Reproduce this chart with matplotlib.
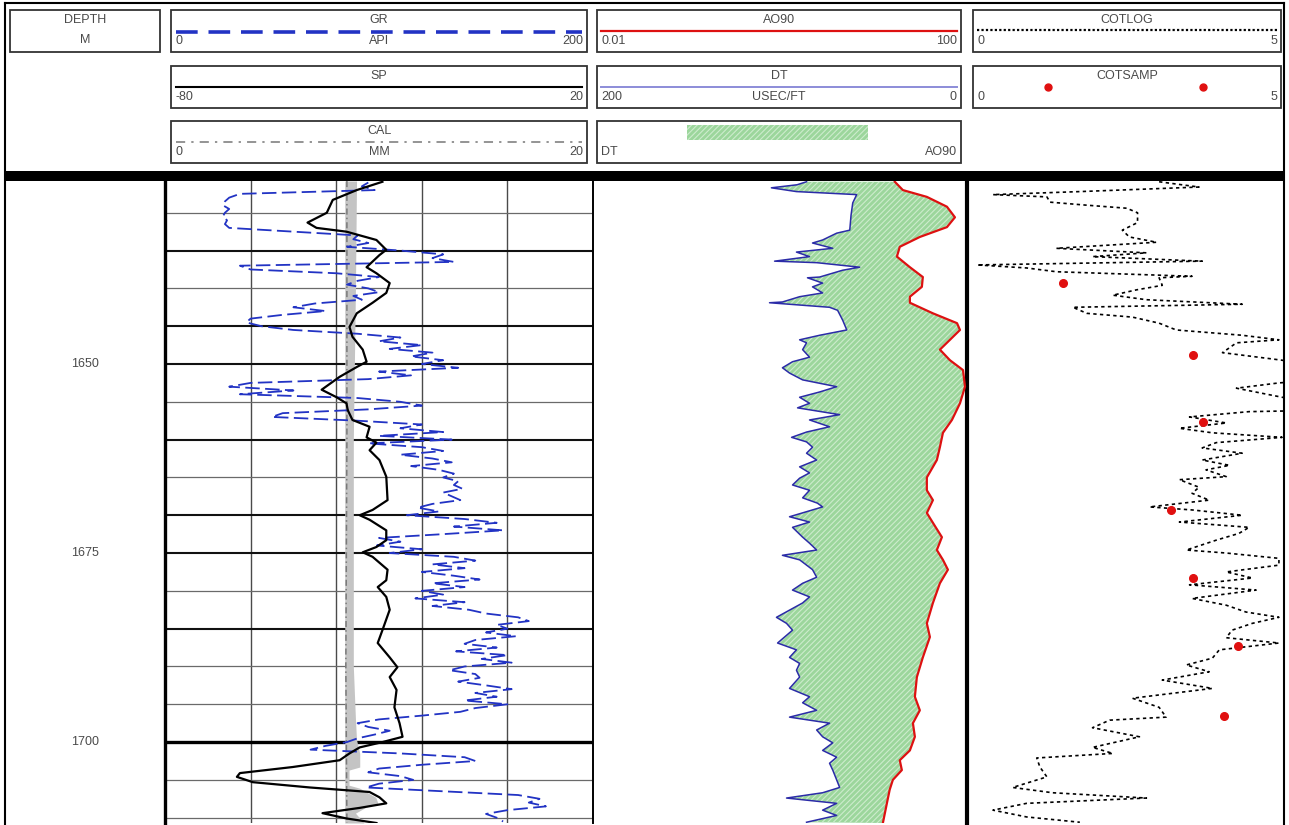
import numpy as np
import matplotlib.pyplot as plt
from matplotlib.patches import Rectangle

plt.rcParams['font.family'] = ['Liberation Sans', 'DejaVu Sans']
plt.rcParams['hatch.linewidth'] = 0.8

# ---------------- log data ----------------
# gamma ray, API, every 0.5 m
gr_depth = np.arange(1626.0, 1710.6, 0.5)
gr = [95, 92, 98, 35, 30, 28, 27, 30, 28, 27,
      29, 28, 30, 60, 90, 88, 95, 85, 110, 130,
      125, 135, 35, 40, 80, 100, 90, 85, 95, 100,
      88, 92, 70, 60, 75, 55, 40, 38, 45, 60,
      90, 110, 100, 120, 105, 125, 115, 130, 120, 137,
      100, 115, 95, 40, 30, 60, 35, 90, 110, 120,
      95, 55, 50, 90, 120, 110, 130, 100, 134, 95,
      120, 130, 110, 125, 134, 115, 128, 135, 130, 137,
      135, 139, 130, 134, 138, 125, 118, 128, 113, 140,
      155, 135, 158, 130, 100, 110, 99, 120, 105, 135,
      145, 125, 140, 120, 135, 147, 125, 140, 120, 130,
      117, 140, 125, 142, 150, 165, 170, 155, 160, 150,
      164, 145, 140, 155, 136, 160, 148, 162, 140, 133,
      145, 147, 137, 150, 162, 145, 155, 140, 160, 145,
      138, 120, 100, 90, 95, 105, 98, 90, 85, 75,
      68, 110, 140, 145, 120, 100, 95, 110, 116, 100,
      94, 130, 165, 175, 170, 178, 160, 150, 155, 158]

# spontaneous potential, mV
sp_depth = [1625.9, 1627.0, 1628.3, 1630.0, 1631.3, 1632.0, 1632.5, 1633.6,
            1634.9, 1635.6, 1637.2, 1638.0, 1639.3, 1640.6, 1641.9, 1643.3,
            1645.1, 1646.4, 1648.1, 1649.7, 1650.4, 1651.7, 1653.4, 1654.4,
            1655.2, 1656.1, 1657.4, 1658.3, 1659.7, 1660.4, 1661.4, 1662.7,
            1664.9, 1668.0, 1669.3, 1670.0, 1670.6, 1672.0, 1673.3, 1674.2,
            1674.9, 1675.5, 1677.2, 1678.6, 1679.5, 1680.8, 1682.5, 1685.2,
            1686.9, 1688.8, 1690.1, 1691.4, 1693.1, 1695.4, 1697.5, 1699.3,
            1700.0, 1700.7, 1701.5, 1702.4, 1703.3, 1704.1, 1704.6, 1705.3,
            1706.0, 1706.6, 1707.3, 1708.1, 1708.7, 1709.4, 1710.1, 1710.7]
sp = [-29.2, -35.2, -40.8, -42.2, -46.7, -44.6, -37.6, -30.6,
      -28.3, -29.9, -32.9, -30.6, -27.5, -28.3, -31.5, -35.2,
      -36.9, -36.2, -33.8, -32.9, -35.2, -39.2, -43.4, -39.9,
      -37.6, -37.3, -36.2, -32.2, -32.9, -30.6, -32.2, -29.9,
      -28.3, -28.0, -31.5, -34.5, -32.2, -28.3, -28.3, -30.6,
      -33.8, -31.5, -28.0, -28.3, -30.3, -28.3, -27.5, -29.2,
      -30.3, -27.5, -25.7, -27.5, -25.9, -26.4, -25.2, -24.5,
      -29.2, -34.5, -36.9, -39.2, -50.2, -62.5, -63.2, -59.5,
      -46.2, -32.2, -29.9, -28.3, -34.5, -43.2, -37.6, -30.6]

# caliper, mm, and the washed-out hole shading next to it
cal_depth = [1625.8, 1660.0, 1690.0, 1710.7]
cal = [8.5, 8.5, 8.45, 8.5]
bit_size = 8.4
wash_depth = [1625.8, 1640.0, 1660.0, 1690.0, 1697.0, 1699.7, 1701.5, 1703.3,
              1703.7, 1705.7, 1706.1, 1707.3, 1708.1, 1708.6, 1709.4, 1710.7]
wash = [8.95, 8.9, 8.8, 8.8, 8.9, 8.95, 9.1, 9.1,
        8.6, 8.6, 9.1, 9.85, 9.95, 9.4, 8.9, 9.3]

# sonic, usec/ft
dt_depth = [1625.9, 1626.3, 1626.7, 1627.2, 1627.6, 1628.7, 1630.3,
            1632.3, 1632.7, 1633.6, 1634.0, 1634.7, 1635.2, 1635.8,
            1636.4, 1636.6, 1637.2, 1637.6, 1638.5, 1638.6, 1639.3,
            1639.8, 1640.6, 1641.1, 1641.8, 1641.9, 1642.5, 1642.9,
            1644.2, 1645.5, 1646.2, 1646.8, 1647.2, 1648.1, 1649.1,
            1649.7, 1650.5, 1651.2, 1652.1, 1653.0, 1653.7, 1654.4,
            1655.2, 1655.8, 1656.7, 1657.4, 1658.3, 1659.0, 1659.7,
            1660.3, 1661.0, 1661.8, 1662.7, 1663.6, 1664.4, 1665.1,
            1666.0, 1666.7, 1667.7, 1668.4, 1668.9, 1670.2, 1670.9,
            1671.6, 1672.9, 1673.7, 1674.6, 1675.3, 1675.9, 1677.2,
            1678.2, 1679.0, 1679.9, 1680.8, 1681.6, 1683.5, 1684.3,
            1685.2, 1686.9, 1687.8, 1688.8, 1689.6, 1690.5, 1691.4,
            1692.9, 1694.0, 1694.8, 1695.8, 1696.7, 1697.5, 1698.4,
            1699.3, 1700.1, 1701.1, 1702.0, 1702.8, 1703.7, 1705.0,
            1706.0, 1706.7, 1707.4, 1708.1, 1709.0, 1709.7, 1710.6]
dt = [85.8, 90.9, 104.6, 91.2, 59.0, 61.1, 62.0,
      62.7, 69.7, 77.2, 82.6, 71.8, 91.2, 84.2,
      102.9, 80.4, 57.4, 66.5, 78.8, 85.3, 77.2,
      82.6, 77.2, 89.5, 98.7, 105.6, 73.5, 69.2,
      66.5, 64.3, 78.8, 89.5, 85.8, 87.9, 84.2,
      93.3, 98.7, 94.9, 87.9, 69.7, 78.8, 89.5,
      84.2, 90.6, 68.1, 84.2, 73.5, 85.8, 93.8,
      85.8, 82.6, 85.8, 80.4, 89.5, 84.2, 89.5,
      93.3, 84.2, 87.9, 80.0, 77.2, 94.9, 84.2,
      93.3, 87.9, 84.2, 80.4, 98.7, 89.5, 82.6,
      80.4, 87.9, 93.3, 84.2, 87.9, 101.9, 96.5,
      93.3, 101.3, 91.2, 94.9, 89.5, 91.2, 89.5,
      94.9, 84.2, 87.9, 80.4, 94.9, 73.5, 80.4,
      77.2, 71.8, 77.2, 69.7, 73.5, 71.8, 69.7,
      68.1, 77.2, 96.5, 69.7, 77.2, 69.7, 85.8]

# deep resistivity, ohm.m
ao_depth = [1625.9, 1627.0, 1627.9, 1629.2, 1630.6, 1631.9, 1633.2, 1634.5,
            1635.8, 1637.2, 1638.5, 1639.8, 1641.1, 1641.9, 1643.3, 1644.6,
            1645.5, 1646.8, 1648.1, 1649.5, 1650.8, 1653.0, 1655.2, 1657.4,
            1659.1, 1661.0, 1662.7, 1665.0, 1666.7, 1668.0, 1669.7, 1671.0,
            1672.9, 1674.6, 1675.9, 1677.2, 1679.0, 1681.6, 1684.3, 1686.1,
            1688.8, 1691.4, 1694.0, 1695.8, 1697.5, 1699.3, 1701.1, 1702.4,
            1703.7, 1705.0, 1706.3, 1708.1, 1710.7]
ao90 = [16.9, 20.6, 37.2, 61.0, 74.3, 61.0, 31.3, 19.1,
        17.8, 24.5, 33.7, 32.9, 24.5, 24.5, 43.2, 78.2,
        84.1, 65.7, 51.3, 65.7, 90.6, 95.2, 84.1, 69.0,
        55.3, 51.3, 47.6, 37.2, 37.2, 43.2, 37.2, 43.2,
        53.9, 47.6, 55.3, 62.5, 51.3, 43.2, 37.2, 40.1,
        33.7, 29.1, 27.7, 31.3, 26.4, 27.7, 24.5, 19.1,
        20.1, 16.1, 14.9, 13.9, 12.6]

# computed organic carbon log and core samples
cot_depth = [1625.9, 1626.6, 1627.2, 1627.6, 1627.9, 1628.6, 1629.0, 1629.4, 1630.0, 1631.3,
             1632.3, 1633.2, 1633.9, 1634.7, 1635.3, 1635.8, 1636.4, 1636.9, 1637.3, 1637.8,
             1638.4, 1638.6, 1639.6, 1640.2, 1640.9, 1641.5, 1642.1, 1642.5, 1643.3, 1643.8,
             1644.6, 1645.5, 1646.2, 1646.8, 1647.2, 1648.5, 1649.5, 1650.4, 1652.1, 1652.5,
             1653.2, 1653.8, 1654.4, 1655.2, 1656.1, 1656.3, 1657.0, 1657.8, 1658.5, 1659.1,
             1659.7, 1660.4, 1661.1, 1661.8, 1662.7, 1663.4, 1664.0, 1664.9, 1665.3, 1666.3,
             1667.1, 1668.0, 1668.9, 1669.3, 1670.0, 1670.9, 1671.6, 1672.4, 1673.3, 1674.6,
             1675.0, 1675.7, 1676.6, 1677.5, 1678.3, 1679.2, 1679.9, 1681.0, 1681.9, 1682.8,
             1683.5, 1684.3, 1685.2, 1686.2, 1686.9, 1687.8, 1688.9, 1689.8, 1690.7, 1691.8,
             1692.9, 1694.2, 1695.4, 1696.7, 1697.1, 1698.1, 1699.3, 1700.7, 1701.5, 1702.1,
             1703.3, 1704.6, 1706.0, 1706.7, 1707.4, 1708.1, 1709.0, 1709.9, 1710.6]
cotlog = [3.03, 3.66, 1.78, 0.41, 1.26, 1.31, 1.89, 2.52, 2.69, 2.69,
          2.45, 2.56, 2.99, 1.41, 2.83, 1.98, 3.71, 0.16, 0.94, 1.41,
          3.55, 3.03, 3.08, 2.67, 2.30, 2.83, 4.34, 1.67, 1.89, 2.61,
          3.03, 3.30, 4.34, 4.92, 4.25, 4.03, 4.97, 5.6, 5.6, 4.92,
          4.25, 4.61, 4.97, 5.8, 5.8, 4.45, 3.51, 4.09, 3.35, 3.87,
          4.97, 3.93, 3.71, 4.34, 3.71, 4.14, 3.77, 4.09, 3.35, 3.66,
          3.55, 3.82, 2.88, 3.55, 4.34, 3.35, 4.45, 4.29, 3.93, 3.46,
          4.09, 4.92, 4.92, 4.09, 4.50, 3.51, 4.56, 3.55, 4.09, 4.40,
          4.92, 4.50, 4.18, 4.09, 4.92, 3.98, 3.87, 3.46, 3.82, 3.08,
          3.87, 2.61, 3.03, 3.14, 2.25, 1.98, 2.72, 1.98, 2.30, 1.10,
          1.15, 1.26, 0.72, 1.35, 2.83, 0.94, 0.41, 0.94, 1.78]
samp_depth = [1639.3, 1648.8, 1657.7, 1669.3, 1678.3, 1687.3, 1696.6]
cotsamp = [1.51, 3.57, 3.73, 3.21, 3.57, 4.28, 4.06]

depth_labels = [1650, 1675, 1700]
grid_depths = np.arange(1630, 1711, 5)
heavy_depths = [1635, 1645, 1650, 1660, 1670, 1675, 1685]
top_depth, base_depth = 1625.8, 1710.7

# ---------------- figure ----------------
W, H = 1289, 825
fig = plt.figure(figsize=(W / 100, H / 100), dpi=100)

TXT = dict(fontsize=9, color='#4a4a4a')
GR_C = '#2233c4'
DT_C = '#2b2ba8'
AO_C = '#dd1111'
FILL_FC, FILL_HC = '#9cd69c', '#cdeccd'

hdr = fig.add_axes([0, 0, 1, 1])
hdr.set_xlim(0, W)
hdr.set_ylim(H, 0)
hdr.axis('off')


def px_axes(x0, x1, y0=181, y1=823):
    a = fig.add_axes([x0 / W, 1 - y1 / H, (x1 - x0) / W, (y1 - y0) / H])
    a.set_facecolor('none')
    a.set_xticks([])
    a.set_yticks([])
    for s in a.spines.values():
        s.set_visible(False)
    return a


def box(x0, y0, x1, y1):
    hdr.add_patch(Rectangle((x0, y0), x1 - x0, y1 - y0, fill=False,
                            ec='#333333', lw=1.3))


def scale_box(x0, y0, x1, y1, title, left, right, unit=''):
    box(x0, y0, x1, y1)
    xc = (x0 + x1) / 2
    hdr.text(xc, y0 + 10, title, ha='center', va='center', **TXT)
    hdr.text(x0 + 4, y0 + 31, left, ha='left', va='center', **TXT)
    hdr.text(x1 - 4, y0 + 31, right, ha='right', va='center', **TXT)
    if unit:
        hdr.text(xc, y0 + 31, unit, ha='center', va='center', **TXT)


# outer frame and the heavy bar under the header
hdr.plot([5, 5], [3, H], color='black', lw=1.5)
hdr.plot([1284, 1284], [3, H], color='black', lw=1.5)
hdr.plot([5, 1284], [3, 3], color='black', lw=1.5)
hdr.add_patch(Rectangle((5, 171), 1279, 10, color='black', lw=0))

# header boxes
rows = [(10, 52), (66, 108), (121, 163)]
c1, c2, c3 = (171, 587), (597, 961), (973, 1281)

box(10, 10, 160, 52)
hdr.text(85, 20, 'DEPTH', ha='center', va='center', **TXT)
hdr.text(85, 40, 'M', ha='center', va='center', **TXT)

scale_box(c1[0], rows[0][0], c1[1], rows[0][1], 'GR', '0', '200', 'API')
hdr.plot([c1[0] + 5, c1[1] - 5], [32, 32], color=GR_C, lw=2.6, ls=(0, (6, 3)))
scale_box(c1[0], rows[1][0], c1[1], rows[1][1], 'SP', '-80', '20')
hdr.plot([c1[0] + 5, c1[1] - 5], [87, 87], color='black', lw=1.5)
scale_box(c1[0], rows[2][0], c1[1], rows[2][1], 'CAL', '0', '20', 'MM')
hdr.plot([c1[0] + 5, c1[1] - 5], [142, 142], color='#777777', lw=1.1,
         ls=(0, (6, 4, 1.5, 4)))

scale_box(c2[0], rows[0][0], c2[1], rows[0][1], 'AO90', '0.01', '100')
hdr.plot([c2[0] + 4, c2[1] - 4], [31, 31], color=AO_C, lw=1.6)
scale_box(c2[0], rows[1][0], c2[1], rows[1][1], 'DT', '200', '0', 'USEC/FT')
hdr.plot([c2[0] + 4, c2[1] - 4], [87, 87], color='#8c8cd8', lw=1.4)
box(c2[0], rows[2][0], c2[1], rows[2][1])
hdr.add_patch(Rectangle((687, 125), 181, 15, facecolor=FILL_FC,
                        edgecolor=FILL_HC, hatch='//////', lw=0))
hdr.text(c2[0] + 4, 152, 'DT', ha='left', va='center', **TXT)
hdr.text(c2[1] - 4, 152, 'AO90', ha='right', va='center', **TXT)

scale_box(c3[0], rows[0][0], c3[1], rows[0][1], 'COTLOG', '0', '5')
hdr.plot([c3[0] + 4, c3[1] - 4], [30, 30], color='black', lw=1.6,
         ls=(0, (1, 1)))
scale_box(c3[0], rows[1][0], c3[1], rows[1][1], 'COTSAMP', '0', '5')
hdr.plot([1048, 1203], [87, 87], ls='none', marker='o', ms=5,
         color='#e01010')

# ---------------- depth track ----------------
ax0 = px_axes(5, 165)
ax0.set_xlim(0, 1)
ax0.set_ylim(base_depth, top_depth)
for d in depth_labels:
    ax0.text(0.5, d, str(d), ha='center', va='center', **TXT)

# ---------------- track 1: GR / SP / CAL ----------------
ax1 = px_axes(165, 593)
ax1.set_xlim(0, 200)
ax1.set_ylim(base_depth, top_depth)
ax1.spines['left'].set_visible(True)
ax1.spines['left'].set_linewidth(2.4)
ax1.spines['right'].set_visible(True)
ax1.spines['right'].set_linewidth(1.4)
for v in (40, 80, 120, 160):
    ax1.axvline(v, color='#4a4a4a', lw=1.0, zorder=1)
for d in grid_depths:
    if d == 1700:
        ax1.axhline(d, color='black', lw=2.4, zorder=1)
    elif d in heavy_depths:
        ax1.axhline(d, color='#111111', lw=1.5, zorder=1)
    else:
        ax1.axhline(d, color='#6a6a6a', lw=0.9, zorder=1)

ax1c = px_axes(165, 593)
ax1c.set_xlim(0, 20)
ax1c.set_ylim(base_depth, top_depth)
ax1c.fill_betweenx(wash_depth, bit_size, wash, color='#c4c4c4', lw=0, zorder=2)
ax1c.plot(cal, cal_depth, color='#7a7a7a', lw=1.1, ls=(0, (4, 2, 1, 2)), zorder=3)

ax1g = px_axes(165, 593)
ax1g.set_xlim(0, 200)
ax1g.set_ylim(base_depth, top_depth)
ax1g.plot(gr, gr_depth, color=GR_C, lw=1.3, ls=(0, (8, 3)))

ax1s = px_axes(165, 593)
ax1s.set_xlim(-80, 20)
ax1s.set_ylim(base_depth, top_depth)
ax1s.plot(sp, sp_depth, color='black', lw=1.6)

# ---------------- track 2: DT / AO90 ----------------
ax2 = px_axes(593, 967)
ax2.set_xlim(200, 0)
ax2.set_ylim(base_depth, top_depth)
ax2.spines['right'].set_visible(True)
ax2.spines['right'].set_linewidth(3.0)

ax2r = px_axes(593, 967)
ax2r.set_xscale('log')
ax2r.set_xlim(0.01, 100)
ax2r.set_ylim(base_depth, top_depth)
ax2r.set_xticks([])
ax2r.minorticks_off()

# resistivity curve mapped into the sonic axis to close the shaded polygon
pts = ax2r.transData.transform(np.column_stack([ao90, ao_depth]))
ao_in_dt = ax2.transData.inverted().transform(pts)
poly_x = np.concatenate([dt, ao_in_dt[::-1, 0]])
poly_y = np.concatenate([dt_depth, ao_in_dt[::-1, 1]])
ax2.fill(poly_x, poly_y, facecolor=FILL_FC, edgecolor=FILL_HC,
         hatch='//////', lw=0, zorder=1)
ax2.plot(dt, dt_depth, color=DT_C, lw=1.1, zorder=3)
ax2r.plot(ao90, ao_depth, color=AO_C, lw=1.6, zorder=3)

# ---------------- track 3: COTLOG / COTSAMP ----------------
ax3 = px_axes(967, 1284)
ax3.set_xlim(0, 5)
ax3.set_ylim(base_depth, top_depth)
ax3.spines['right'].set_visible(True)
ax3.spines['right'].set_linewidth(1.4)
ax3.plot(cotlog, cot_depth, color='black', lw=1.2, ls=(0, (2, 2)))
ax3.plot(cotsamp, samp_depth, ls='none', marker='o', ms=5.5,
         color='#e01010', zorder=4)

fig.savefig('out.png', dpi=100)
